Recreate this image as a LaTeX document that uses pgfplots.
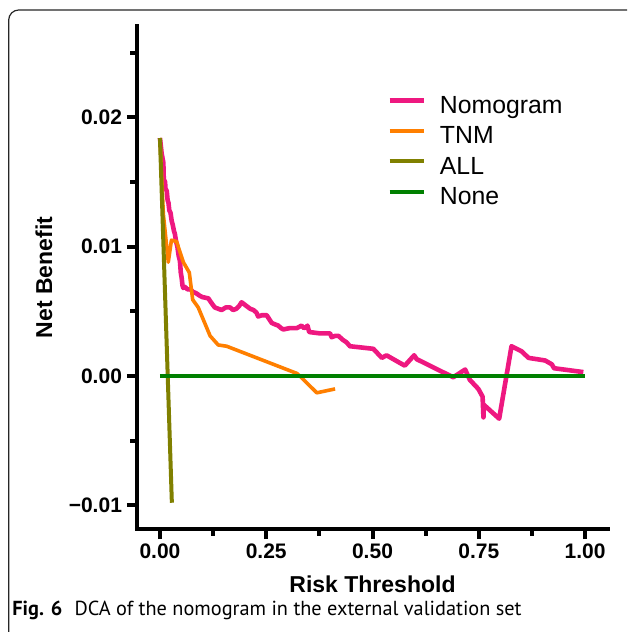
\documentclass[border=0pt]{standalone}
\usepackage{pgfplots}
\pgfplotsset{compat=1.18}
\usepackage{fontspec}
\setmainfont{Liberation Sans}
\newfontfamily\capfont{PT Sans}
\definecolor{pinkc}{RGB}{238,24,128}
\definecolor{orangec}{RGB}{255,127,0}
\definecolor{olivec}{RGB}{128,128,0}
\definecolor{greenc}{RGB}{0,128,0}
\begin{document}
\begin{tikzpicture}
\useasboundingbox (0,0) rectangle (313.5pt,316pt);
\clip (0,0) rectangle (313.5pt,316pt);
\draw[line width=0.6pt, rounded corners=5pt, black!85] (4.35pt,-20pt) rectangle (340pt,311pt);
\node[anchor=base west, inner sep=0pt, font=\capfont\fontsize{10.15}{12}\selectfont] at (6pt,8.5pt) {\textbf{Fig. 6}\hspace{0.6em}DCA of the nomogram in the external validation set};
\begin{axis}[
  at={(68.5pt,51.5pt)}, anchor=south west,
  scale only axis, width=235.5pt, height=251.5pt,
  xmin=-0.054, xmax=1.054, ymin=-0.01183, ymax=0.02706,
  scaled y ticks=false, scaled x ticks=false,
  axis line style={draw=none},
  xtick pos=left, ytick pos=left,
  tick align=outside,
  major tick length=5pt,
  major tick style={line width=2pt, black},
  xtick={0,0.25,0.5,0.75,1}, xticklabels={0.00,0.25,0.50,0.75,1.00},
  ytick={-0.01,0,0.01,0.02}, yticklabels={−0.01,0.00,0.01,0.02},
  extra x ticks={0.125,0.375,0.625,0.875}, extra x tick labels={},
  extra y ticks={-0.005,0.005,0.015,0.025}, extra y tick labels={},
  extra tick style={major tick length=3.4pt, major tick style={line width=2pt, black}},
  tick label style={font=\fontsize{10.5}{12}\selectfont\bfseries},
  yticklabel style={xshift=1pt},
  xticklabel style={yshift=1pt},
  xlabel={Risk Threshold}, ylabel={Net Benefit},
  label style={font=\fontsize{11.5}{13}\selectfont\bfseries},
  xlabel style={at={(axis description cs:0.5,-0.1103)}, anchor=center},
  ylabel style={at={(axis description cs:-0.1975,0.5)}, anchor=center},
  clip=false,
  after end axis/.code={\draw[black, line width=2pt, line cap=rect, line join=miter] (rel axis cs:0,1) -- (rel axis cs:0,0) -- (rel axis cs:1,0);},
  legend style={draw=none, fill=none, at={(axis cs:0.534,0.02173)}, anchor=north west,
    font=\fontsize{12.4}{14}\selectfont, inner sep=0pt, row sep=6.4pt, column sep=7pt,
    nodes={inner sep=0pt, text height=8.9pt, text depth=0pt}},
  legend cell align=left,
  legend image code/.code={\draw[#1] (0pt,2pt) -- (17pt,2pt);},
]
\addplot[pinkc, line width=2.3pt, line join=round] coordinates {
(0,0.0184) (0.004,0.0172) (0.008,0.0165) (0.009,0.0152) (0.012,0.0150) (0.013,0.0145)
(0.016,0.0143) (0.018,0.0136) (0.020,0.0134) (0.022,0.0128) (0.025,0.0126) (0.0275,0.0120)
(0.030,0.0117) (0.033,0.0112) (0.035,0.0110) (0.038,0.0104) (0.041,0.0100) (0.044,0.0093)
(0.047,0.0089) (0.049,0.0080) (0.051,0.0076) (0.053,0.0070) (0.055,0.0068) (0.058,0.0069)
(0.065,0.0067) (0.072,0.0067) (0.078,0.0065) (0.085,0.0064) (0.094,0.0062) (0.100,0.0061)
(0.114,0.0060) (0.120,0.0057) (0.129,0.0053) (0.137,0.0052) (0.145,0.0051) (0.155,0.0053)
(0.165,0.0053) (0.172,0.0051) (0.180,0.0052) (0.186,0.0054) (0.192,0.0057) (0.200,0.0055)
(0.212,0.0052) (0.220,0.0051) (0.227,0.0049) (0.231,0.0046) (0.240,0.0047) (0.251,0.0047)
(0.257,0.0044) (0.263,0.0041) (0.270,0.0040) (0.278,0.0039) (0.285,0.0037) (0.290,0.0036)
(0.305,0.0037) (0.322,0.0037) (0.328,0.0038) (0.333,0.0039) (0.339,0.0037) (0.345,0.0038)
(0.347,0.0039) (0.351,0.0034) (0.375,0.0033) (0.400,0.0033) (0.404,0.0030) (0.412,0.0031)
(0.420,0.0031) (0.430,0.0028) (0.439,0.0026) (0.447,0.0023) (0.475,0.0022) (0.502,0.0021)
(0.522,0.0014) (0.533,0.0016) (0.565,0.0010) (0.576,0.0008) (0.598,0.0016) (0.604,0.0013)
(0.690,-0.0001) (0.718,0.0005) (0.729,-0.0003) (0.749,-0.0010) (0.759,-0.0016) (0.761,-0.0032)
(0.761,-0.0022) (0.798,-0.0033) (0.827,0.0023) (0.851,0.0019) (0.867,0.0014) (0.906,0.0012)
(0.922,0.0009) (0.927,0.0006) (0.996,0.0003)
};
\addlegendentry{Nomogram}
\addplot[orangec, line width=1.8pt, line join=round] coordinates {
(0,0.0184) (0.008,0.0125) (0.0196,0.0088) (0.027,0.0105) (0.039,0.0104) (0.055,0.0088)
(0.069,0.0080) (0.077,0.0059) (0.090,0.0053) (0.118,0.0031) (0.137,0.0024) (0.157,0.0023)
(0.322,0.0002) (0.329,0.0000) (0.369,-0.0013) (0.412,-0.0010)
};
\addlegendentry{TNM}
\addplot[olivec, line width=2pt] coordinates {(0,0.0184) (0.028,-0.0098)};
\addlegendentry{ALL}
\addplot[greenc, line width=2pt] coordinates {(0,0) (1,0)};
\addlegendentry{None}
\end{axis}
\end{tikzpicture}
\end{document}
